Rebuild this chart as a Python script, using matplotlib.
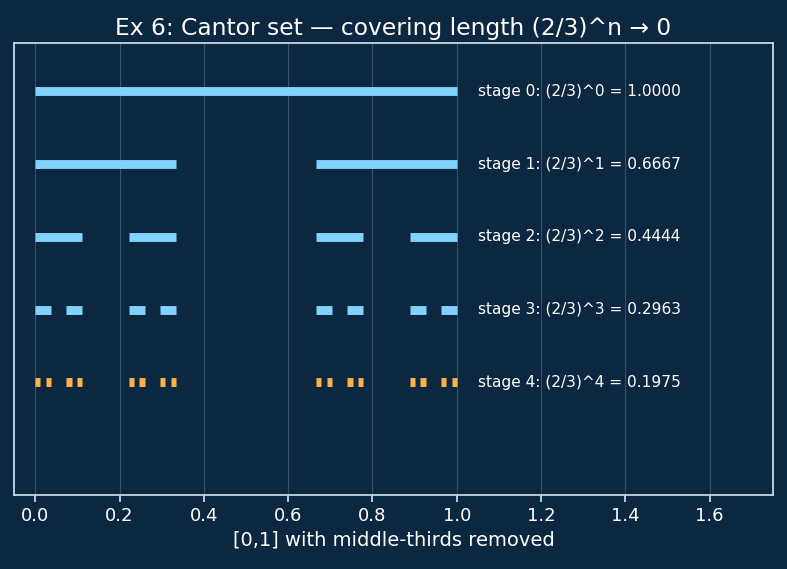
import matplotlib
matplotlib.use("Agg")
import matplotlib.pyplot as plt

# Cantor construction: left endpoints in units of 3^-n, each piece has width 1 unit
stages = [0, 1, 2, 3, 4]
denoms = [1, 3, 9, 27, 81]
left_ends = [
    [0],
    [0, 2],
    [0, 2, 6, 8],
    [0, 2, 6, 8, 18, 20, 24, 26],
    [0, 2, 6, 8, 18, 20, 24, 26, 54, 56, 60, 62, 72, 74, 78, 80],
]
lengths = [1.0000, 0.6667, 0.4444, 0.2963, 0.1975]

bg = "#0c2841"
blue = "#82d2ff"
orange = "#ffb347"

fig, ax = plt.subplots(figsize=(7.87, 5.69), dpi=100)
fig.patch.set_facecolor(bg)
ax.set_facecolor(bg)

for k, d, lefts, L in zip(stages, denoms, left_ends, lengths):
    col = orange if k == stages[-1] else blue
    for a in lefts:
        ax.plot([a / d, (a + 1) / d], [-k, -k], color=col, lw=6.4,
                solid_capstyle="butt")
    ax.text(1.05, -k, f"stage {k}: (2/3)^{k} = {L:.4f}", color="white",
            fontsize=11.1, va="center", ha="left")

ax.set_xlim(-0.05, 1.75)
ax.set_ylim(-5.55, 0.66)
ax.set_yticks([])
ax.set_xticks([0.0, 0.2, 0.4, 0.6, 0.8, 1.0, 1.2, 1.4, 1.6])
ax.grid(axis="x", color="#4a6478", lw=0.8, alpha=0.7)
ax.set_axisbelow(True)
for s in ax.spines.values():
    s.set_color("#c5d8e8")
    s.set_linewidth(1.3)
ax.tick_params(axis="x", colors="#c5d8e8", labelcolor="white", labelsize=13,
               length=5, width=1.3)
ax.set_xlabel("[0,1] with middle-thirds removed", color="white", fontsize=14)
ax.set_title("Ex 6: Cantor set — covering length (2/3)^n → 0", color="white",
             fontsize=16.8)

plt.subplots_adjust(left=0.018, right=0.982, top=0.924, bottom=0.13)
plt.savefig("out.png", facecolor=bg)
